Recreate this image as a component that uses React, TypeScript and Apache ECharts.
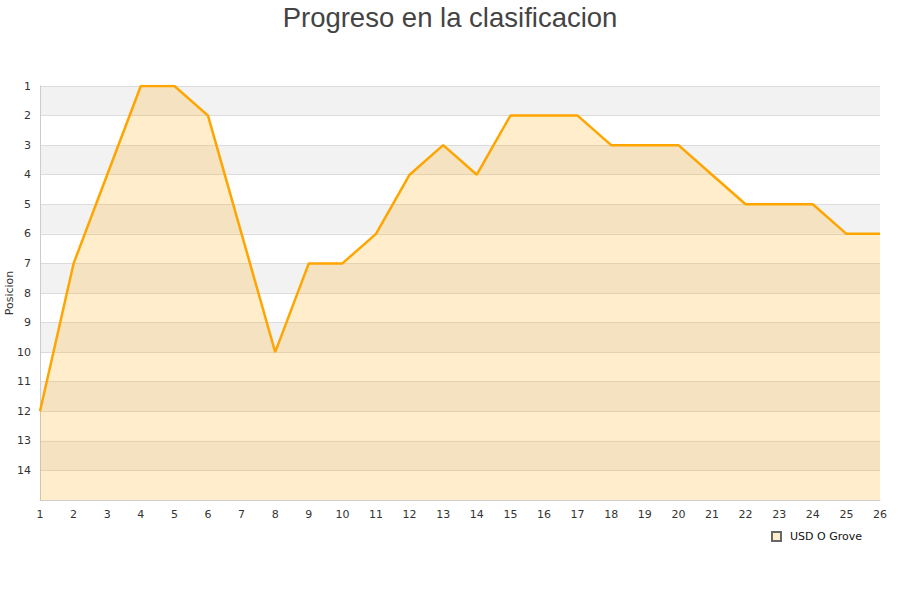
import React, { useEffect, useRef } from "react";
import * as echarts from "echarts";

const rounds = ["1","2","3","4","5","6","7","8","9","10","11","12","13","14","15","16","17","18","19","20","21","22","23","24","25","26"];
const positions = [12, 7, 4, 1, 1, 2, 6, 10, 7, 7, 6, 4, 3, 4, 2, 2, 2, 3, 3, 3, 4, 5, 5, 5, 6, 6];
const seriesName = "USD O Grove";
const chartTitle = "Progreso en la clasificacion";
const yName = "Posicion";

export default function App() {
  const ref = useRef<HTMLDivElement>(null);
  useEffect(() => {
    if (!ref.current) return;
    const chart = echarts.init(ref.current, undefined, { renderer: "svg" });
    chart.setOption({
      animation: false,
      backgroundColor: "#ffffff",
      title: {
        text: chartTitle,
        left: "center",
        top: 0,
        padding: [3, 5],
        textStyle: { fontFamily: "Liberation Sans", fontSize: 27.5, fontWeight: "normal", color: "#444" },
      },
      legend: {
        data: [{ name: seriesName, icon: "rect" }],
        left: 766,
        top: 526,
        itemWidth: 9,
        itemHeight: 9,
        textStyle: { fontFamily: "DejaVu Sans", fontSize: 11, color: "#111", padding: [0, 0, 0, 4] },
      },
      grid: { left: 40, right: 20, top: 86, bottom: 100, containLabel: false, outerBoundsMode: "none" },
      xAxis: {
        type: "category",
        data: rounds,
        boundaryGap: false,
        axisLine: { show: true, lineStyle: { color: "#ccc" } },
        axisTick: { show: false },
        axisLabel: { fontFamily: "DejaVu Sans", fontSize: 11, color: "#333", margin: 9 },
        splitLine: { show: false },
      },
      yAxis: {
        type: "value",
        inverse: true,
        min: 1,
        max: 15,
        interval: 1,
        name: yName,
        nameLocation: "middle",
        nameGap: 25,
        nameMoveOverlap: false,
        nameTextStyle: { fontFamily: "DejaVu Sans", fontSize: 11, color: "#333" },
        axisLine: { show: true, lineStyle: { color: "#ccc" } },
        axisTick: { show: false },
        axisLabel: {
          fontFamily: "DejaVu Sans",
          fontSize: 11,
          color: "#333",
          margin: 9,
          formatter: (v: number) => (v === 15 ? "" : String(v)),
        },
        splitLine: { show: true, lineStyle: { color: "#dcdcdc" } },
        splitArea: { show: true, areaStyle: { color: ["#f2f2f2", "#ffffff"] } },
      },
      series: [
        {
          name: seriesName,
          type: "line",
          data: positions,
          showSymbol: false,
          symbol: "none",
          lineStyle: { color: "#ffa500", width: 2.5 },
          itemStyle: { color: "#ffedcc", borderColor: "#666", borderWidth: 1 },
          areaStyle: { color: "#ffa500", opacity: 0.2, origin: "end" },
        },
      ],
    });
    return () => chart.dispose();
  }, []);
  return <div ref={ref} style={{ width: 900, height: 600, position: "absolute", left: 0, top: 0 }} />;
}
